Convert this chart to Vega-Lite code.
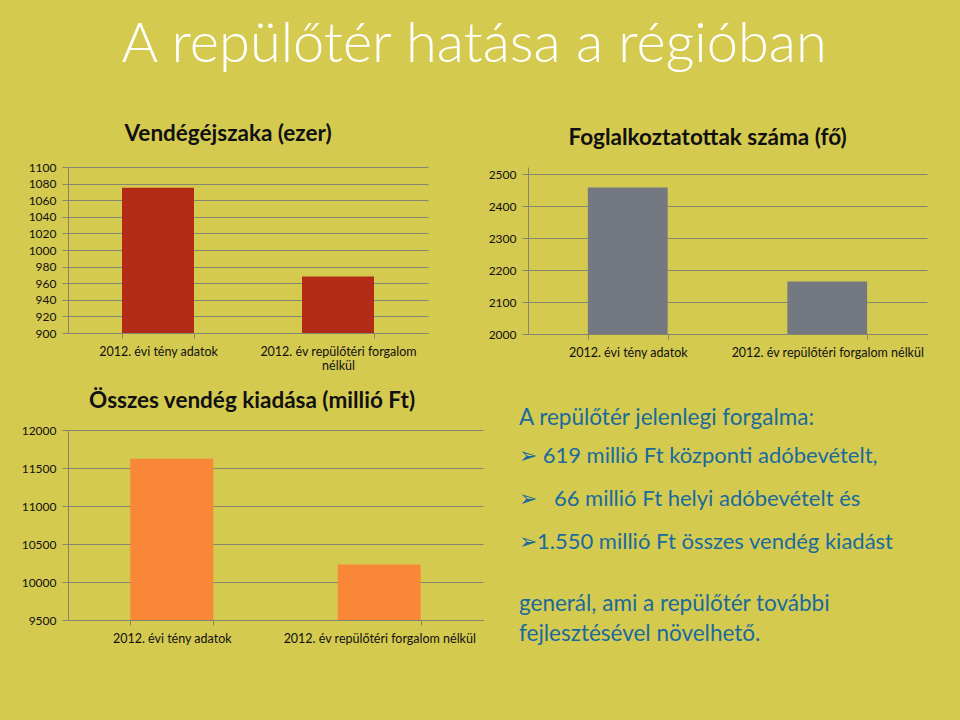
{
  "$schema": "https://vega.github.io/schema/vega-lite/v6.json",
  "background": "#d5ca50",
  "padding": {"left": 21, "top": 16, "right": 35, "bottom": 76},
  "title": {"text": "A repülőtér hatása a régióban", "color": "white", "font": "Lato", "fontWeight": 300, "fontSize": 56, "anchor": "middle", "offset": 49},
  "config": {
    "view": {"stroke": null},
    "font": "Lato",
    "axis": {
      "labelFont": "Lato", "labelFontSize": 12, "labelColor": "#111111", "labelLimit": 400,
      "domainColor": "#858570", "tickColor": "#858570", "gridColor": "#858570",
      "title": null
    },
    "axisX": {"labelAngle": 0, "labelFontSize": 12.5, "tickBand": "extent", "tickSize": 5, "labelPadding": 7, "grid": false},
    "axisY": {"tickSize": 6, "labelPadding": 6, "grid": true, "format": "d"},
    "title": {"fontSize": 22.5, "fontWeight": "bold", "color": "#111111", "font": "Lato", "frame": "bounds"}
  },
  "spacing": 17,
  "vconcat": [
    {
      "spacing": 60,
      "hconcat": [
        {
          "title": {"text": "Vendégéjszaka (ezer)", "offset": 16},
          "width": 360, "height": 166,
          "data": {"values": [
            {"kategoria": "2012. évi tény adatok", "ertek": 1075},
            {"kategoria": "2012. év repülőtéri forgalom nélkül", "ertek": 968}
          ]},
          "mark": {"type": "bar", "color": "#b32a17", "clip": true},
          "encoding": {
            "x": {"field": "kategoria", "type": "nominal", "sort": null,
                  "scale": {"paddingInner": 0.6, "paddingOuter": 0.3},
                  "axis": {"labelExpr": "length(datum.label) > 25 ? ['2012. év repülőtéri forgalom', 'nélkül'] : datum.label"}},
            "y": {"field": "ertek", "type": "quantitative",
                  "scale": {"domain": [900, 1100], "zero": false, "nice": false},
                  "axis": {"values": [900, 920, 940, 960, 980, 1000, 1020, 1040, 1060, 1080, 1100]}}
          }
        },
        {
          "title": {"text": "Foglalkoztatottak száma (fő)", "offset": 18},
          "width": 399, "height": 167,
          "data": {"values": [
            {"kategoria": "2012. évi tény adatok", "ertek": 2458},
            {"kategoria": "2012. év repülőtéri forgalom nélkül", "ertek": 2164}
          ]},
          "mark": {"type": "bar", "color": "#747880", "clip": true},
          "encoding": {
            "x": {"field": "kategoria", "type": "nominal", "sort": null,
                  "scale": {"paddingInner": 0.6, "paddingOuter": 0.3}},
            "y": {"field": "ertek", "type": "quantitative",
                  "scale": {"domain": [2000, 2522], "zero": false, "nice": false},
                  "axis": {"values": [2000, 2100, 2200, 2300, 2400, 2500]}}
          }
        }
      ]
    },
    {
      "spacing": 36,
      "hconcat": [
        {
          "title": {"text": "Összes vendég kiadása (millió Ft)", "offset": 12},
          "width": 415, "height": 190,
          "data": {"values": [
            {"kategoria": "2012. évi tény adatok", "ertek": 11622},
            {"kategoria": "2012. év repülőtéri forgalom nélkül", "ertek": 10231}
          ]},
          "mark": {"type": "bar", "color": "#f88838", "clip": true},
          "encoding": {
            "x": {"field": "kategoria", "type": "nominal", "sort": null,
                  "scale": {"paddingInner": 0.6, "paddingOuter": 0.3}},
            "y": {"field": "ertek", "type": "quantitative",
                  "scale": {"domain": [9500, 12000], "zero": false, "nice": false},
                  "axis": {"values": [9500, 10000, 10500, 11000, 11500, 12000]}}
          }
        },
        {
          "title": {"text": "A repülőtér jelenlegi forgalma:", "anchor": "start", "frame": "group", "fontSize": 22.5, "fontWeight": "normal", "color": "#1a6a9c", "offset": 1},
          "width": 400, "height": 181,
          "data": {"values": [
            {"sor": 1, "szoveg": "➢ 619 millió Ft központi adóbevételt,"},
            {"sor": 2, "szoveg": "➢\u00a0\u00a0\u00a066 millió Ft helyi adóbevételt és"},
            {"sor": 3, "szoveg": "➢1.550 millió Ft összes vendég kiadást"},
            {"sor": 4, "szoveg": ["generál, ami a repülőtér további", "fejlesztésével növelhető."]}
          ]},
          "encoding": {
            "x": {"value": 0},
            "y": {"field": "sor", "type": "ordinal", "scale": {"domain": [1, 2, 3, 4], "padding": 0.605}, "axis": null},
            "text": {"field": "szoveg"}
          },
          "layer": [
            {
              "transform": [{"filter": "datum.sor < 4"}],
              "mark": {"type": "text", "align": "left", "baseline": "middle", "fontSize": 22, "color": "#1a6a9c", "font": "Lato"}
            },
            {
              "transform": [{"filter": "datum.sor == 4"}],
              "mark": {"type": "text", "align": "left", "baseline": "middle", "fontSize": 22.5, "lineHeight": 30, "dy": 19, "color": "#1a6a9c", "font": "Lato"}
            }
          ]
        }
      ]
    }
  ]
}
